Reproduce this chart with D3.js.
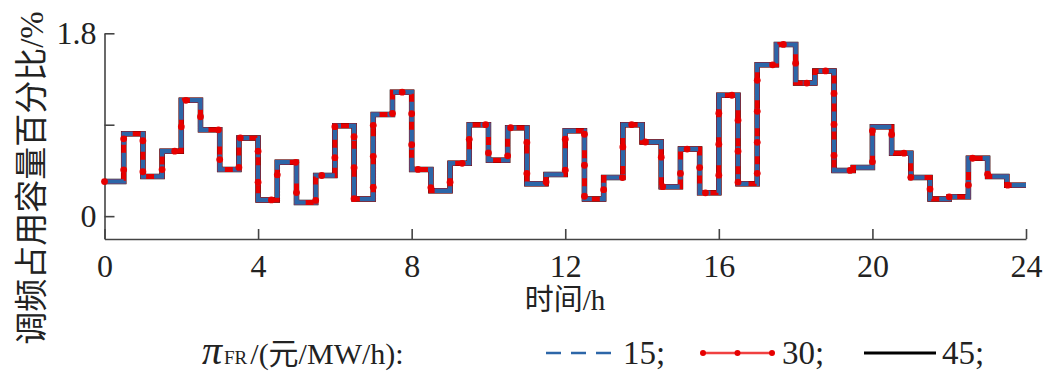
<!DOCTYPE html>
<html><head><meta charset="utf-8">
<script src="https://cdn.jsdelivr.net/npm/d3@7"></script>
<style>body{margin:0;background:#fff} text{font-family:"Liberation Serif","Times New Roman","Noto Sans CJK SC",serif;fill:#222}</style>
</head><body>
<svg id="c" width="1058" height="385"></svg>
<script>
// time slot starts (h)
const times = [0,0.5,1,1.5,2,2.5,3,3.5,4,4.5,5,5.5,6,6.5,7,7.5,8,8.5,9,9.5,10,10.5,11,11.5,
               12,12.5,13,13.5,14,14.5,15,15.5,16,16.5,17,17.5,18,18.5,19,19.5,20,20.5,21,21.5,22,22.5,23,23.5];
const endTime = 24;
const series15 = [0.34,0.81,0.39,0.64,1.14,0.85,0.46,0.77,0.16,0.53,0.135,0.40,
                  0.89,0.17,1.00,1.22,0.46,0.25,0.52,0.90,0.55,0.87,0.32,0.41,
                  0.84,0.17,0.38,0.90,0.73,0.29,0.66,0.23,1.19,0.32,1.49,1.69,
                  1.31,1.43,0.45,0.48,0.88,0.62,0.38,0.17,0.19,0.57,0.39,0.305];
const series30 = [0.34,0.81,0.39,0.64,1.14,0.85,0.46,0.77,0.16,0.53,0.135,0.40,
                  0.89,0.17,1.00,1.22,0.46,0.25,0.52,0.90,0.55,0.87,0.32,0.41,
                  0.84,0.17,0.38,0.90,0.73,0.29,0.66,0.23,1.19,0.32,1.49,1.69,
                  1.31,1.43,0.45,0.48,0.88,0.62,0.38,0.17,0.19,0.57,0.39,0.305];
const series45 = [0.34,0.81,0.39,0.64,1.14,0.85,0.46,0.77,0.16,0.53,0.135,0.40,
                  0.89,0.17,1.00,1.22,0.46,0.25,0.52,0.90,0.55,0.87,0.32,0.41,
                  0.84,0.17,0.38,0.90,0.73,0.29,0.66,0.23,1.19,0.32,1.49,1.69,
                  1.31,1.43,0.45,0.48,0.88,0.62,0.38,0.17,0.19,0.57,0.39,0.305];
const xTicks = [0,4,8,12,16,20,24];
const yTicks = [0,0.9,1.8];
const yTickLabels = ["0","","1.8"];
const legendLabels = ["15;","30;","45;"];

const svg = d3.select("#c");
const x = d3.scaleLinear().domain([0,24]).range([104.5,1026]);
const y = d3.scaleLinear().domain([-0.225,1.8]).range([239,33.3]);
const axisColor = "#444";

const gx = svg.append("g").attr("transform","translate(0,239)")
  .call(d3.axisBottom(x).tickValues(xTicks).tickFormat(d3.format("d")).tickSizeInner(-10).tickSizeOuter(0).tickPadding(15));
const gy = svg.append("g").attr("transform","translate(104.5,0)")
  .call(d3.axisLeft(y).tickValues(yTicks).tickFormat((d,i)=>yTickLabels[i]).tickSizeInner(-10).tickSizeOuter(0).tickPadding(8));
[gx,gy].forEach(g=>{
  g.selectAll("path,line").attr("stroke",axisColor).attr("stroke-width",1.6);
  g.selectAll("text").style("font-size","32px").attr("fill","#222")
   .style("font-family",'"Liberation Serif","Times New Roman",serif');
});

const toPts = vals => times.map((t,i)=>[t,vals[i]]).concat([[endTime, vals[vals.length-1]]]);
const line = d3.line().x(d=>x(d[0])).y(d=>y(d[1])).curve(d3.curveStepAfter);

const blue = "#2c66a8", red = "#e60000";
svg.append("path").attr("d",line(toPts(series45))).attr("fill","none").attr("stroke","#000").attr("stroke-width",5.5);
const redPath = svg.append("path").attr("d",line(toPts(series30))).attr("fill","none").attr("stroke",red).attr("stroke-width",5);
svg.append("path").attr("d",line(toPts(series15))).attr("fill","none").attr("stroke",blue).attr("stroke-width",4.5)
  .attr("stroke-dasharray","20,8").attr("stroke-linejoin","miter");
// markers along the red line
const node = redPath.node();
const L = node.getTotalLength();
const markerStep = 31;
const mk = svg.append("g");
for (let s=0; s<=L; s+=markerStep){
  const p = node.getPointAtLength(s);
  mk.append("circle").attr("cx",p.x).attr("cy",p.y).attr("r",3.4).attr("fill",red);
}

// axis titles
svg.append("text").attr("transform","translate(32,178) rotate(-90)")
  .attr("text-anchor","middle").attr("dominant-baseline","central")
  .style("font-size","33px").text("调频占用容量百分比/%");
svg.append("text").attr("x",565).attr("y",300).attr("text-anchor","middle").attr("dominant-baseline","central")
  .style("font-size","29px").text("时间/h");

// legend
const ly = 353;
const lt = svg.append("text").attr("x",202).attr("y",364);
lt.append("tspan").style("font-size","40px").style("font-style","italic").text("π");
lt.append("tspan").style("font-size","19px").attr("dx",2).text("FR");
lt.append("tspan").style("font-size","30px").attr("dx",3).text("/(元/MW/h):");

svg.append("line").attr("x1",546).attr("x2",611).attr("y1",ly).attr("y2",ly)
  .attr("stroke",blue).attr("stroke-width",2.5).attr("stroke-dasharray","15,10");
svg.append("line").attr("x1",703).attr("x2",772).attr("y1",ly).attr("y2",ly)
  .attr("stroke","#f04040").attr("stroke-width",2.5);
[703,737.5,772].forEach(cx=>svg.append("circle").attr("cx",cx).attr("cy",ly).attr("r",3).attr("fill",red));
svg.append("line").attr("x1",864).attr("x2",936).attr("y1",ly).attr("y2",ly)
  .attr("stroke","#000").attr("stroke-width",3);
[[623,0],[782,1],[942,2]].forEach(([lx,i])=>{
  svg.append("text").attr("x",lx).attr("y",364).style("font-size","33px").text(legendLabels[i]);
});
</script>
</body></html>
